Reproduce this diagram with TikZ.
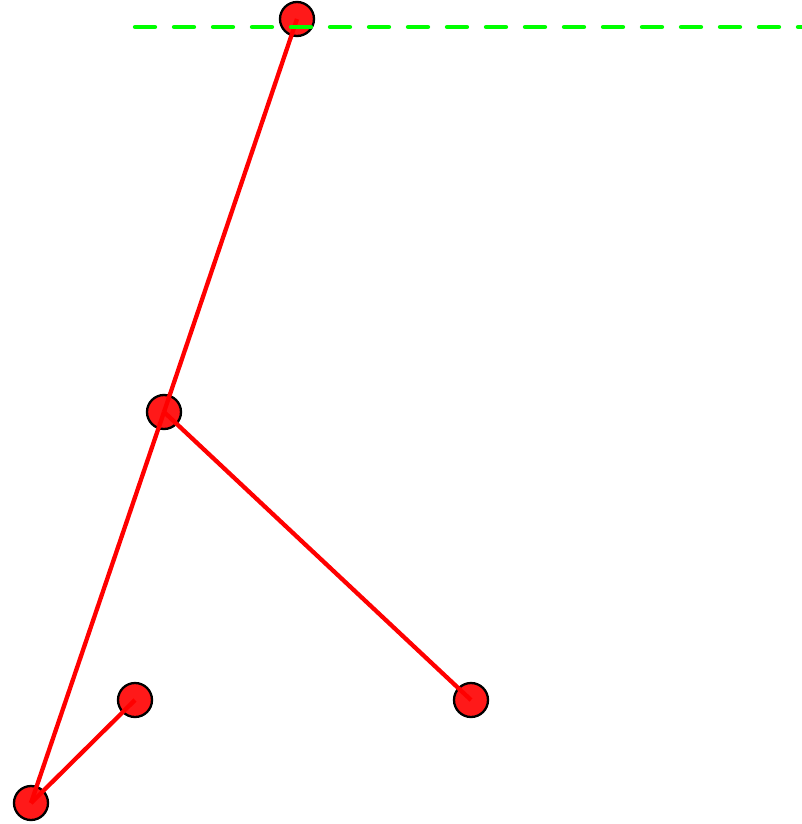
\documentclass[tikz,border=0pt]{standalone}
\begin{document}
\begin{tikzpicture}[x=1pt,y=-1pt,
  joint/.style={circle,draw=black,fill=red!90!white,line width=2.3pt,minimum size=34pt,inner sep=0pt},
  bone/.style={draw=red,line width=4.3pt},
  floorline/.style={draw=green,line width=4.3pt,line cap=round,dash pattern=on 20pt off 19pt}]
\useasboundingbox (0,0) rectangle (802,824);
\node[joint] (a) at (297,19) {};
\node[joint] (b) at (164,412) {};
\node[joint] (c) at (31,803) {};
\node[joint] (d) at (135,700) {};
\node[joint] (e) at (471,700) {};
\draw[bone] (a.center) -- (b.center);
\draw[bone] (b.center) -- (c.center);
\draw[bone] (b.center) -- (e.center);
\draw[bone] (c.center) -- (d.center);
\coordinate (fl) at (135,27);
\coordinate (fr) at (802,27);
\draw[floorline] (fl) -- (fr);
\end{tikzpicture}
\end{document}
